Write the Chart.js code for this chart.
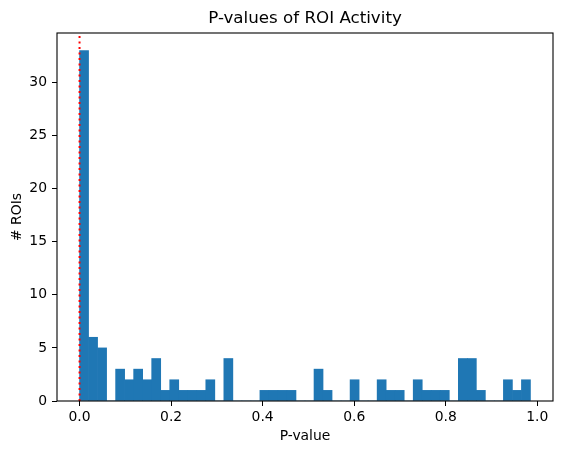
<!DOCTYPE html>
<html>
<head>
<meta charset="utf-8">
<script src="https://cdn.jsdelivr.net/npm/chart.js@4.4.1/dist/chart.umd.min.js"></script>
<style>
  html, body { margin: 0; padding: 0; background: #fff; }
  #chart { display: block; }
</style>
</head>
<body>
<canvas id="chart" width="562" height="455"></canvas>
<script>
// histogram of p-values, 50 bins starting at 0
var binStart = 0;
var binWidth = 0.0197;
var binCounts = [33, 6, 5, 0, 3, 2, 3, 2, 4, 1,
                 2, 1, 1, 1, 2, 0, 4, 0, 0, 0,
                 1, 1, 1, 1, 0, 0, 3, 1, 0, 0,
                 2, 0, 0, 2, 1, 1, 0, 2, 1, 1,
                 1, 0, 4, 4, 1, 0, 0, 2, 1, 2];
var xTicks = [0, 0.2, 0.4, 0.6, 0.8, 1.0];
var yTicks = [0, 5, 10, 15, 20, 25, 30];
var thresholdX = 0;

var xMin = -0.04925, xMax = 1.03425;
var yMax = 34.65;

var barData = binCounts.map(function (c, i) {
  return { x: binStart + (i + 0.5) * binWidth, y: c };
});

var font = "'DejaVu Sans', sans-serif";

var framePlugin = {
  id: 'frame',
  afterDraw: function (chart) {
    var a = chart.chartArea, c = chart.ctx;
    c.save();
    c.strokeStyle = '#000';
    c.lineWidth = 1.1;
    c.strokeRect(a.left, a.top, a.right - a.left, a.bottom - a.top);
    c.fillStyle = '#000';
    c.font = '16.7px ' + font;
    c.textAlign = 'center';
    c.textBaseline = 'alphabetic';
    c.fillText('P-values of ROI Activity', (a.left + a.right) / 2, 23);
    c.restore();
  }
};

new Chart(document.getElementById('chart'), {
  type: 'bar',
  data: {
    datasets: [{
      type: 'line',
      data: [{ x: thresholdX, y: 0 }, { x: thresholdX, y: yMax }],
      borderColor: '#ff0000',
      borderWidth: 2,
      borderDash: [2, 3.5],
      pointRadius: 0,
      order: 0
    }, {
      type: 'bar',
      data: barData,
      backgroundColor: '#1f77b4',
      borderWidth: 0,
      barPercentage: 1,
      categoryPercentage: 1,
      order: 1
    }]
  },
  options: {
    responsive: false,
    animation: false,
    devicePixelRatio: 1,
    layout: { padding: { top: 33, right: 9, left: 0, bottom: 0 } },
    plugins: { legend: { display: false }, tooltip: { enabled: false } },
    scales: {
      x: {
        type: 'linear',
        min: xMin,
        max: xMax,
        offset: false,
        afterBuildTicks: function (s) { s.ticks = xTicks.map(function (v) { return { value: v }; }); },
        afterFit: function (s) { s.height = 54; },
        ticks: {
          color: '#000',
          font: { family: font, size: 13.9 },
          padding: 3,
          maxRotation: 0,
          callback: function (v) { return v.toFixed(1); }
        },
        grid: { offset: false, drawOnChartArea: false, drawTicks: true, tickLength: 5, color: '#000', lineWidth: 1 },
        border: { display: false },
        title: { display: true, text: 'P-value', color: '#000', font: { family: font, size: 13.9 }, padding: { top: 0, bottom: 10 } }
      },
      y: {
        min: 0,
        max: yMax,
        afterBuildTicks: function (s) { s.ticks = yTicks.map(function (v) { return { value: v }; }); },
        afterFit: function (s) { s.width = 57; },
        ticks: {
          color: '#000',
          font: { family: font, size: 13.9 },
          padding: 5
        },
        grid: { drawOnChartArea: false, drawTicks: true, tickLength: 5, color: '#000', lineWidth: 1 },
        border: { display: false },
        title: { display: true, text: '# ROIs', color: '#000', font: { family: font, size: 13.9 }, padding: { top: 9, bottom: 0 } }
      }
    }
  },
  plugins: [framePlugin]
});
</script>
</body>
</html>
